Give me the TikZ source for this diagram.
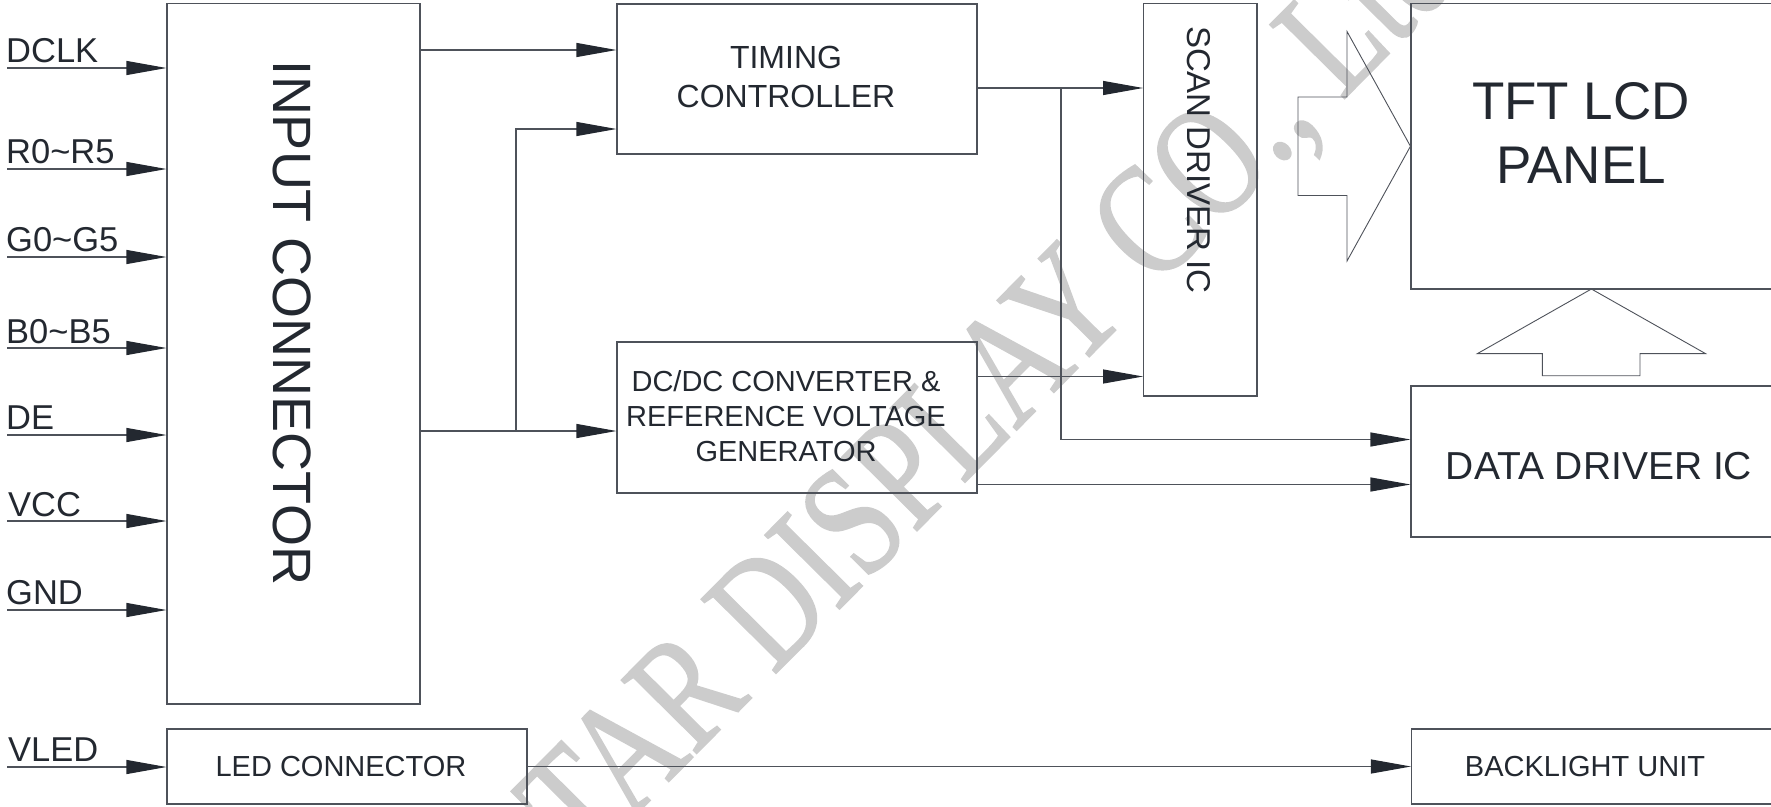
\documentclass[tikz,border=0pt]{standalone}
\usepackage{fontspec}
\setmainfont{Liberation Sans}
\newfontfamily\wmfont[FakeBold=1.2]{Liberation Serif}
\usetikzlibrary{arrows.meta}
\definecolor{ink}{RGB}{35,40,48}
\definecolor{wire}{RGB}{78,82,90}
\definecolor{wmark}{RGB}{204,204,204}
\tikzset{
  blk/.style={draw=wire, line width=1.1pt, inner sep=0pt},
  txt/.style={text=ink, inner sep=0pt, anchor=base},
  pin/.style={text=ink, inner sep=0pt, anchor=base west, font=\fontsize{34.5}{40}\selectfont},
  sig/.style={draw=wire, line width=1.1pt, -{Triangle[length=40pt,width=14pt,color=ink]}},
  bigarrow/.style={draw=wire, line width=0.9pt, line join=miter},
}
\begin{document}
\begin{tikzpicture}[x=1pt, y=-1pt]
  \useasboundingbox (0,0) rectangle (1771,806);
  \clip (0,0) rectangle (1771,806);
  % watermark
  \node[rotate=45.3, anchor=base west, inner sep=0pt, text=wmark,
    font=\wmfont\fontsize{160}{160}\selectfont] (wm) at (584,867)
    {\scalebox{0.775}[1]{TAR DISPLAY CO., Ltd}};
  % blocks
  \node[blk, minimum width=253pt, minimum height=700.5pt] (inconn) at (293.5,353.75) {};
  \node[blk, minimum width=360pt, minimum height=75pt] (ledconn) at (347,766.5) {};
  \node[blk, minimum width=360pt, minimum height=150pt] (timing) at (797,79) {};
  \node[blk, minimum width=360pt, minimum height=151pt] (dcdc) at (797,417.5) {};
  \node[blk, minimum width=113.4pt, minimum height=392.5pt] (scan) at (1200.3,199.75) {};
  \node[blk, minimum width=389pt, minimum height=285.5pt] (tft) at (1605.5,146.25) {};
  \node[blk, minimum width=389pt, minimum height=151pt] (data) at (1605.5,461.5) {};
  \node[blk, minimum width=388.5pt, minimum height=75pt] (back) at (1605.75,766.5) {};
  % block texts
  \node[txt, rotate=-90, anchor=center, font=\fontsize{54}{60}\selectfont] (inconn-t) at (292,323) {INPUT CONNECTOR};
  \node[txt, font=\fontsize{29}{34}\selectfont] (ledconn-t) at (341,776.7) {LED CONNECTOR};
  \node[txt, font=\fontsize{32}{38}\selectfont] (timing-t1) at (786,68.4) {TIMING};
  \node[txt, font=\fontsize{32}{38}\selectfont] (timing-t2) at (786,107) {CONTROLLER};
  \node[txt, font=\fontsize{29}{34}\selectfont] (dcdc-t1) at (786,391.5) {DC/DC CONVERTER \&};
  \node[txt, font=\fontsize{29}{34}\selectfont] (dcdc-t2) at (786,426.5) {REFERENCE VOLTAGE};
  \node[txt, font=\fontsize{29}{34}\selectfont] (dcdc-t3) at (786,461.5) {GENERATOR};
  \node[txt, rotate=-90, anchor=center, font=\fontsize{33}{38}\selectfont] (scan-t) at (1198.6,160) {SCAN DRIVER IC};
  \node[txt, font=\fontsize{53}{60}\selectfont] (tft-t1) at (1581,119) {TFT LCD};
  \node[txt, font=\fontsize{53}{60}\selectfont] (tft-t2) at (1581,183) {PANEL};
  \node[txt, font=\fontsize{39}{44}\selectfont] (data-t) at (1599,479.6) {DATA DRIVER IC};
  \node[txt, font=\fontsize{29}{34}\selectfont] (back-t) at (1585,776) {BACKLIGHT UNIT};
  % input pins
  \coordinate (dclk) at (7,68);
  \coordinate (rdat) at (7,169);
  \coordinate (gdat) at (7,257);
  \coordinate (bdat) at (7,348);
  \coordinate (de) at (7,435);
  \coordinate (vcc) at (7,521);
  \coordinate (gnd) at (7,610);
  \coordinate (vled) at (7,767);
  \node[pin] (dclk-t) at (6,62.7) {DCLK};
  \node[pin] (rdat-t) at (6,163.5) {R0\textasciitilde R5};
  \node[pin] (gdat-t) at (6,251.7) {G0\textasciitilde G5};
  \node[pin] (bdat-t) at (6,343) {B0\textasciitilde B5};
  \node[pin] (de-t) at (6,429.5) {DE};
  \node[pin] (vcc-t) at (8,516.7) {VCC};
  \node[pin] (gnd-t) at (6,604.5) {GND};
  \node[pin] (vled-t) at (8,761.5) {VLED};
  % signal rows
  \coordinate (r1) at (0,50);
  \coordinate (r2) at (0,129);
  \coordinate (r3) at (0,431);
  \coordinate (r4) at (0,88);
  \coordinate (r5) at (0,376.5);
  \coordinate (r6) at (0,439.5);
  \coordinate (r7) at (0,484.5);
  \coordinate (jl) at (516,431);
  \coordinate (jr) at (1061,88);
  \begin{scope}[sig]
    \draw (dclk) -- (inconn.west |- dclk);
    \draw (rdat) -- (inconn.west |- rdat);
    \draw (gdat) -- (inconn.west |- gdat);
    \draw (bdat) -- (inconn.west |- bdat);
    \draw (de) -- (inconn.west |- de);
    \draw (vcc) -- (inconn.west |- vcc);
    \draw (gnd) -- (inconn.west |- gnd);
    \draw (vled) -- (ledconn.west |- vled);
    \draw (inconn.east |- r1) -- (timing.west |- r1);
    \draw (inconn.east |- r3) -- (dcdc.west |- r3);
    \draw (jl) |- (timing.west |- r2);
    \draw (timing.east |- r4) -- (scan.west |- r4);
    \draw (jr) |- (data.west |- r6);
    \draw (dcdc.east |- r5) -- (scan.west |- r5);
    \draw (dcdc.east |- r7) -- (data.west |- r7);
    \draw (ledconn.east) -- (back.west);
  \end{scope}
  % wide arrows into the panel
  \draw[bigarrow] (1298,97) -- (1347,97) -- (1347,31.5) -- (tft.west) -- (1347,261)
    -- (1347,195.5) -- (1298,195.5) -- cycle;
  \draw[bigarrow] (1591.4,289) -- (1705.5,353.6) -- (1640,353.6) -- (1640,375.7)
    -- (1542.3,375.7) -- (1542.3,353.6) -- (1477.4,353.6) -- cycle;
\end{tikzpicture}
\end{document}
